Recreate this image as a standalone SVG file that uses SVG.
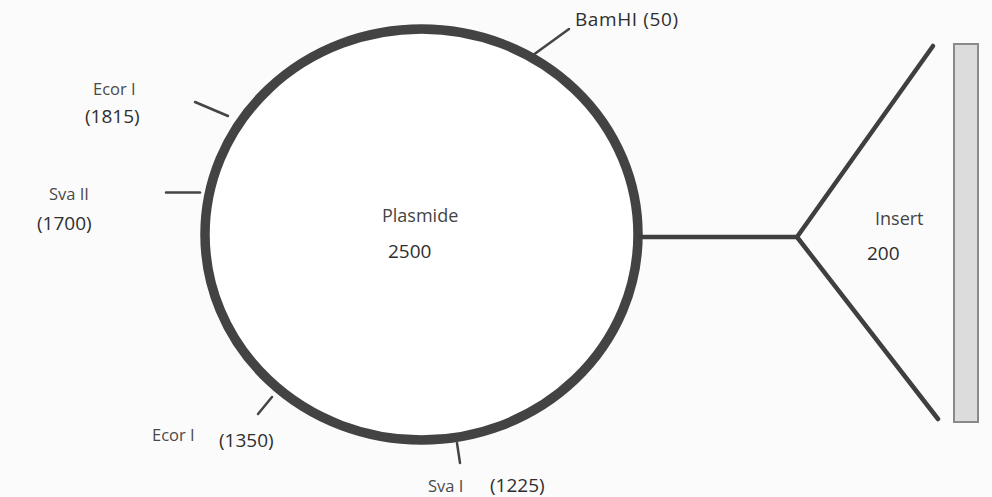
<svg xmlns="http://www.w3.org/2000/svg" width="992" height="497" viewBox="0 0 992 497">
  <style>
    .lbl { font-family: "Open Sans", "Liberation Sans", sans-serif; fill: #2e2e2e; }
    .big { font-size: 19px; }
    .mid { font-size: 18px; fill: #444; }
    .small { font-size: 16.5px; fill: #4a4a4a; }
    .tick { stroke: #444; stroke-width: 2.5; fill: none; stroke-linecap: round; }
    .arm { stroke: #3f3f3f; stroke-width: 4.5; fill: none; stroke-linecap: round; }
  </style>
  <rect x="0" y="0" width="992" height="497" fill="#fbfbfb"/>

  <!-- plasmid ring -->
  <g id="plasmid">
    <ellipse cx="421.5" cy="234.5" rx="216.5" ry="205.5" fill="#ffffff" stroke="#434343" stroke-width="9.5"/>
    <text class="lbl mid" x="382" y="222">Plasmide</text>
    <text class="lbl big" x="388" y="258">2500</text>
  </g>

  <!-- restriction sites -->
  <g id="site-bamhi">
    <line class="tick" x1="529" y1="58" x2="569" y2="29"/>
    <text class="lbl big" x="575" y="26" textLength="103">BamHI (50)</text>
  </g>
  <g id="site-ecori-1815">
    <line class="tick" x1="195" y1="102" x2="228" y2="116"/>
    <text class="lbl small" x="93" y="95">Ecor I</text>
    <text class="lbl big" x="85" y="123">(1815)</text>
  </g>
  <g id="site-svaii-1700">
    <line class="tick" x1="166" y1="192.5" x2="200" y2="192.5"/>
    <text class="lbl small" x="49" y="200">Sva II</text>
    <text class="lbl big" x="37" y="230">(1700)</text>
  </g>
  <g id="site-ecori-1350">
    <line class="tick" x1="258" y1="414" x2="272" y2="397"/>
    <text class="lbl small" x="152" y="441">Ecor I</text>
    <text class="lbl big" x="219" y="447">(1350)</text>
  </g>
  <g id="site-svai-1225">
    <line class="tick" x1="457" y1="443" x2="460" y2="463"/>
    <text class="lbl small" x="428" y="492">Sva I</text>
    <text class="lbl big" x="490" y="492">(1225)</text>
  </g>

  <!-- insert fragment -->
  <g id="insert">
    <rect x="954" y="44" width="24" height="378" fill="#dcdcdc" stroke="#8a8a8a" stroke-width="2"/>
    <text class="lbl mid" x="875" y="225">Insert</text>
    <text class="lbl big" x="867" y="260">200</text>
  </g>

  <!-- connectors -->
  <g id="connectors">
    <line class="arm" x1="640" y1="237" x2="797" y2="237"/>
    <line class="arm" x1="797" y1="237" x2="933" y2="46"/>
    <line class="arm" x1="797" y1="237" x2="938" y2="419"/>
  </g>
</svg>
